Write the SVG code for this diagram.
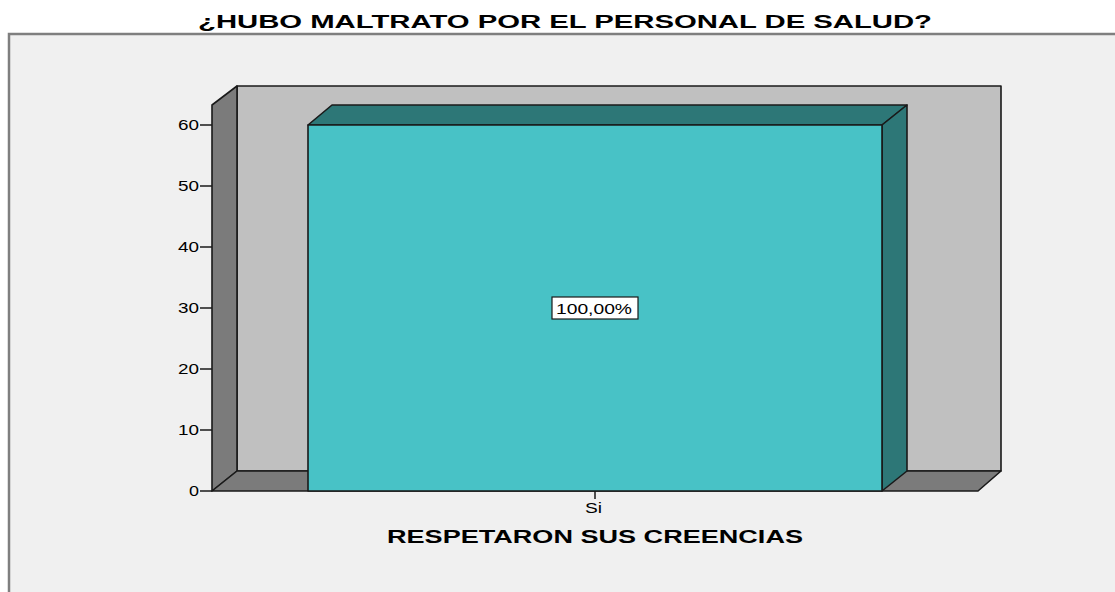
<svg xmlns="http://www.w3.org/2000/svg" width="1115" height="592" viewBox="0 0 1115 592">
<style>
text{font-family:"Liberation Sans",Arial,sans-serif;fill:#000}
.ttl{font-weight:bold;font-size:19px}
.ax{font-size:14px}
.edge{stroke:#1a1a1a;stroke-width:1.6;stroke-linejoin:round}
.wall{fill:#c0c0c0}
.side{fill:#7b7b7b}
.front{fill:#48c2c6}
.dark{fill:#2d7777}
.tick{stroke:#1a1a1a;stroke-width:1.5}
</style>
<rect x="0" y="0" width="1115" height="592" fill="#ffffff"/>
<rect x="9" y="34" width="1120" height="570" fill="#f0f0f0" stroke="#7f7f7f" stroke-width="2.5"/>
<text class="ttl" x="198" y="28" textLength="734" lengthAdjust="spacingAndGlyphs">¿HUBO MALTRATO POR EL PERSONAL DE SALUD?</text>
<g id="chart-frame">
<polygon class="wall edge" points="237,86 1001,86 1001,471 237,471"/>
<polygon class="side edge" points="212,105 237,86 237,471 212,491"/>
<polygon class="side edge" points="212,491 237,471 1001,471 978,491"/>
</g>
<g id="axis">
<line class="tick" x1="200" y1="491" x2="212" y2="491"/>
<line class="tick" x1="200" y1="430" x2="212" y2="430"/>
<line class="tick" x1="200" y1="369" x2="212" y2="369"/>
<line class="tick" x1="200" y1="308" x2="212" y2="308"/>
<line class="tick" x1="200" y1="247" x2="212" y2="247"/>
<line class="tick" x1="200" y1="186" x2="212" y2="186"/>
<line class="tick" x1="200" y1="125" x2="212" y2="125"/>
<text class="ax" x="189" y="496" textLength="10" lengthAdjust="spacingAndGlyphs">0</text>
<text class="ax" x="178" y="435" textLength="21" lengthAdjust="spacingAndGlyphs">10</text>
<text class="ax" x="178" y="374" textLength="21" lengthAdjust="spacingAndGlyphs">20</text>
<text class="ax" x="178" y="313" textLength="21" lengthAdjust="spacingAndGlyphs">30</text>
<text class="ax" x="178" y="252" textLength="21" lengthAdjust="spacingAndGlyphs">40</text>
<text class="ax" x="178" y="191" textLength="21" lengthAdjust="spacingAndGlyphs">50</text>
<text class="ax" x="178" y="130" textLength="21" lengthAdjust="spacingAndGlyphs">60</text>
<line class="tick" x1="595" y1="491" x2="595" y2="499"/>
<text class="ax" x="585" y="513" textLength="17" lengthAdjust="spacingAndGlyphs">Si</text>
</g>
<g id="bar-si">
<polygon class="dark edge" points="308,125 332,105 907,105 882,125"/>
<polygon class="dark edge" points="882,125 907,105 907,471 882,491"/>
<rect class="front edge" x="308" y="125" width="574" height="366"/>
</g>
<g id="label-100">
<rect x="552" y="297" width="86" height="22" fill="#ffffff" stroke="#1a1a1a" stroke-width="1.2"/>
<text x="556" y="314" font-size="14" textLength="76" lengthAdjust="spacingAndGlyphs">100,00%</text>
</g>
<text class="ttl" x="387" y="543" font-size="18" textLength="416" lengthAdjust="spacingAndGlyphs">RESPETARON SUS CREENCIAS</text>
</svg>
